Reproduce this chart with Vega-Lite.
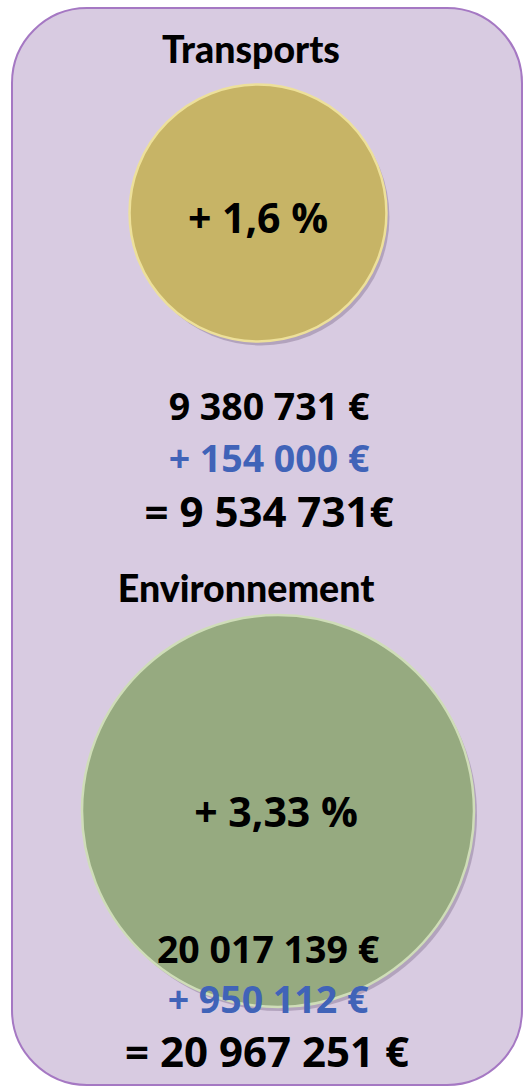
{
  "$schema": "https://vega.github.io/schema/vega-lite/v6.json",
  "width": 510,
  "height": 1077,
  "autosize": "none",
  "padding": {"left": 12, "top": 8, "right": 2, "bottom": 3},
  "background": "#FFFFFF",
  "config": {
    "view": {"fill": "#D8CBE1", "stroke": "#A578C3", "strokeWidth": 2, "cornerRadius": 75},
    "text": {"font": "Open Sans", "fontWeight": "bold", "align": "center", "baseline": "alphabetic"}
  },
  "data": {
    "values": [
      {"section": "Transports", "pct": "+ 1,6 %", "base": "9 380 731 €", "increase": "+ 154 000 €", "total": "= 9 534 731€", "budget": 9534731},
      {"section": "Environnement", "pct": "+ 3,33 %", "base": "20 017 139 €", "increase": "+ 950 112 €", "total": "= 20 967 251 €", "budget": 20967251}
    ]
  },
  "resolve": {"scale": {"x": "independent", "y": "independent", "size": "independent", "color": "independent"}},
  "layer": [
    {
      "mark": {"type": "point", "filled": true, "shape": "circle", "xOffset": 3, "yOffset": 4, "color": "#6E5A7A", "opacity": 0.35},
      "encoding": {
        "x": {"field": "section", "type": "nominal", "scale": {"type": "point", "domain": ["Transports", "Environnement"], "range": [246, 266], "padding": 0}, "axis": null},
        "y": {"field": "section", "type": "nominal", "scale": {"type": "point", "domain": ["Transports", "Environnement"], "range": [205, 803], "padding": 0}, "axis": null},
        "size": {"field": "budget", "type": "quantitative", "scale": {"zero": false, "domain": [9534731, 20967251], "range": [66000, 153664]}, "legend": null}
      }
    },
    {
      "mark": {"type": "point", "filled": true, "shape": "circle", "strokeWidth": 2.5, "opacity": 1},
      "encoding": {
        "x": {"field": "section", "type": "nominal", "scale": {"type": "point", "domain": ["Transports", "Environnement"], "range": [246, 266], "padding": 0}, "axis": null},
        "y": {"field": "section", "type": "nominal", "scale": {"type": "point", "domain": ["Transports", "Environnement"], "range": [205, 803], "padding": 0}, "axis": null},
        "size": {"field": "budget", "type": "quantitative", "scale": {"zero": false, "domain": [9534731, 20967251], "range": [66000, 153664]}, "legend": null},
        "fill": {"field": "section", "type": "nominal", "scale": {"domain": ["Transports", "Environnement"], "range": ["#C7B466", "#96AA80"]}, "legend": null},
        "stroke": {"field": "section", "type": "nominal", "scale": {"domain": ["Transports", "Environnement"], "range": ["#EDE09A", "#CFDDB8"]}, "legend": null}
      }
    },
    {
      "mark": {"type": "text", "font": "Lato", "fontSize": 37.5, "fontWeight": 900, "color": "#000000"},
      "encoding": {
        "x": {"field": "section", "type": "nominal", "scale": {"type": "point", "domain": ["Transports", "Environnement"], "range": [239, 234], "padding": 0}, "axis": null},
        "y": {"field": "section", "type": "nominal", "scale": {"type": "point", "domain": ["Transports", "Environnement"], "range": [55, 594], "padding": 0}, "axis": null},
        "text": {"field": "section"}
      }
    },
    {
      "mark": {"type": "text", "fontSize": 41, "color": "#000000"},
      "encoding": {
        "x": {"field": "section", "type": "nominal", "scale": {"type": "point", "domain": ["Transports", "Environnement"], "range": [246, 264], "padding": 0}, "axis": null},
        "y": {"field": "section", "type": "nominal", "scale": {"type": "point", "domain": ["Transports", "Environnement"], "range": [225, 819], "padding": 0}, "axis": null},
        "text": {"field": "pct"}
      }
    },
    {
      "mark": {"type": "text", "fontSize": 37.5, "color": "#000000"},
      "encoding": {
        "x": {"field": "section", "type": "nominal", "scale": {"type": "point", "domain": ["Transports", "Environnement"], "range": [257, 256], "padding": 0}, "axis": null},
        "y": {"field": "section", "type": "nominal", "scale": {"type": "point", "domain": ["Transports", "Environnement"], "range": [412, 955], "padding": 0}, "axis": null},
        "text": {"field": "base"}
      }
    },
    {
      "mark": {"type": "text", "fontSize": 37.5, "color": "#4063B8"},
      "encoding": {
        "x": {"field": "section", "type": "nominal", "scale": {"type": "point", "domain": ["Transports", "Environnement"], "range": [257, 256], "padding": 0}, "axis": null},
        "y": {"field": "section", "type": "nominal", "scale": {"type": "point", "domain": ["Transports", "Environnement"], "range": [464, 1005], "padding": 0}, "axis": null},
        "text": {"field": "increase"}
      }
    },
    {
      "mark": {"type": "text", "fontSize": 42, "color": "#000000"},
      "encoding": {
        "x": {"field": "section", "type": "nominal", "scale": {"type": "point", "domain": ["Transports", "Environnement"], "range": [257, 255], "padding": 0}, "axis": null},
        "y": {"field": "section", "type": "nominal", "scale": {"type": "point", "domain": ["Transports", "Environnement"], "range": [519, 1059], "padding": 0}, "axis": null},
        "text": {"field": "total"}
      }
    }
  ]
}
